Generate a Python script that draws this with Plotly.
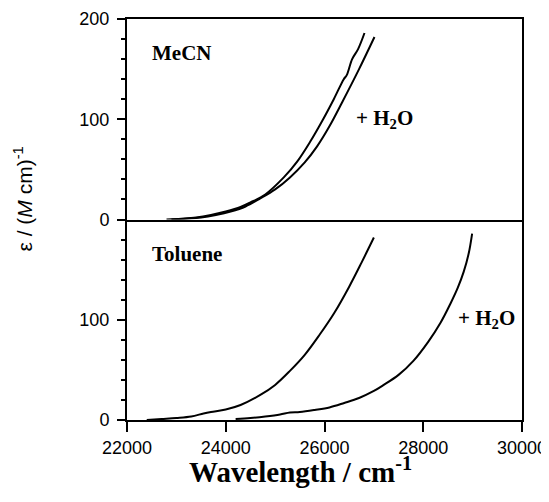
import plotly.graph_objects as go

# MeCN panel (top)
mecn_x = [22800, 23100, 23400, 23700, 24000, 24300, 24500, 24800, 25175, 25450, 25715, 25950, 26188, 26390, 26450, 26560, 26680, 26810]
mecn_y = [0, 0.8, 2, 4.5, 8, 12.5, 17, 25, 42, 58, 78, 98, 120, 140, 144, 160, 170, 186]
mecn_w_x = [22900, 23200, 23500, 23800, 24100, 24400, 24700, 25000, 25300, 25600, 25850, 26100, 26358, 26700, 27012]
mecn_w_y = [0, 0.8, 2, 4.5, 8, 13, 21, 30, 42, 57, 73, 93, 117, 150, 182]

# Toluene panel (bottom)
tol_x = [22400, 22700, 23000, 23300, 23550, 23700, 24000, 24300, 24700, 25000, 25300, 25600, 25900, 26200, 26500, 26750, 27000]
tol_y = [0, 1, 2, 3.5, 6.5, 8, 10.5, 15, 25, 35, 49, 65, 85, 107, 133, 157, 182]
tol_w_x = [24200, 24500, 24800, 25100, 25300, 25500, 25800, 26100, 26400, 26700, 27000, 27200, 27500, 27800, 28100, 28350, 28550, 28700, 28820, 28920, 28990]
tol_w_y = [1, 2, 3.5, 5.5, 7.5, 8, 10, 12.5, 17, 22, 29, 35, 45, 59, 78, 97, 116, 132, 148, 166, 186]

x_ticks = [22000, 24000, 26000, 28000, 30000]
x_labels = ["22000", "24000", "26000", "28000", "30000"]
top_ticks = [0, 100, 200]
bot_ticks = [0, 100]

line = dict(color="black", width=2, shape="spline", smoothing=1.0)
fig = go.Figure()
fig.add_trace(go.Scatter(x=mecn_x, y=mecn_y, mode="lines", line=line, xaxis="x2", yaxis="y2"))
fig.add_trace(go.Scatter(x=mecn_w_x, y=mecn_w_y, mode="lines", line=line, xaxis="x2", yaxis="y2"))
fig.add_trace(go.Scatter(x=tol_x, y=tol_y, mode="lines", line=line, xaxis="x", yaxis="y"))
fig.add_trace(go.Scatter(x=tol_w_x, y=tol_w_y, mode="lines", line=line, xaxis="x", yaxis="y"))

tickfont = dict(family="Liberation Sans", size=18, color="black")
serif = dict(family="Liberation Serif", size=21, color="black")
minor = dict(dtick=20, tick0=0, ticks="outside", ticklen=4, tickwidth=2, tickcolor="black", showgrid=False)

# the page body adds an 8 px offset, so the figure size and margins are compensated
fig.update_layout(
    width=541, height=486,
    margin=dict(l=119, r=27, t=11, b=74, autoexpand=False),
    paper_bgcolor="white", plot_bgcolor="white",
    showlegend=False,
    xaxis=dict(domain=[0, 1], range=[22000, 30000], anchor="y", automargin=False,
               tickvals=x_ticks, ticktext=x_labels, ticks="outside", ticklen=10, tickwidth=2, tickcolor="black",
               showline=True, linewidth=2, linecolor="black", mirror=False, ticklabeloverflow="allow",
               showgrid=False, zeroline=False, tickfont=tickfont, ticklabelstandoff=0),
    xaxis2=dict(domain=[0, 1], range=[22000, 30000], anchor="y2", matches="x", automargin=False,
                showticklabels=False, ticks="",
                showline=True, linewidth=2, linecolor="black", mirror=True,
                showgrid=False, zeroline=False),
    yaxis=dict(domain=[0, 0.5], range=[0, 200], anchor="x", automargin=False,
               tickvals=bot_ticks, ticks="outside", ticklen=8, tickwidth=2, tickcolor="black",
               minor=minor, ticklabelstandoff=4,
               showline=True, linewidth=2, linecolor="black", mirror=True,
               showgrid=False, zeroline=False, tickfont=tickfont),
    yaxis2=dict(domain=[0.5, 1], range=[0, 200], anchor="x2", automargin=False,
                tickvals=top_ticks, ticks="outside", ticklen=8, tickwidth=2, tickcolor="black",
                minor=minor, ticklabelstandoff=4,
                showline=True, linewidth=2, linecolor="black", mirror=True,
                showgrid=False, zeroline=False, tickfont=tickfont),
)

fig.add_annotation(x=22470, y=166, xref="x2", yref="y2", text="<b>MeCN</b>", showarrow=False,
                   xanchor="left", yanchor="middle", font=serif)
fig.add_annotation(x=26590, y=100, xref="x2", yref="y2", text="<b>+ H<sub>2</sub>O</b>", showarrow=False,
                   xanchor="left", yanchor="middle", font=serif)
fig.add_annotation(x=22470, y=166, xref="x", yref="y", text="<b>Toluene</b>", showarrow=False,
                   xanchor="left", yanchor="middle", font=serif)
fig.add_annotation(x=28654, y=101, xref="x", yref="y", text="<b>+ H<sub>2</sub>O</b>", showarrow=False,
                   xanchor="left", yanchor="middle", font=serif)
fig.add_annotation(x=0.44, y=-0.125, xref="paper", yref="paper",
                   text="<b>Wavelength / cm<sup>-1</sup></b>", showarrow=False,
                   xanchor="center", yanchor="middle",
                   font=dict(family="Liberation Serif", size=29, color="black"))
fig.add_annotation(x=-0.262, y=0.551, xref="paper", yref="paper",
                   text="ε / (<i>M</i> cm)<sup>-1</sup>", textangle=-90, showarrow=False,
                   xanchor="center", yanchor="middle",
                   font=dict(family="Liberation Sans", size=21, color="black"))

fig.write_html("out.html")
